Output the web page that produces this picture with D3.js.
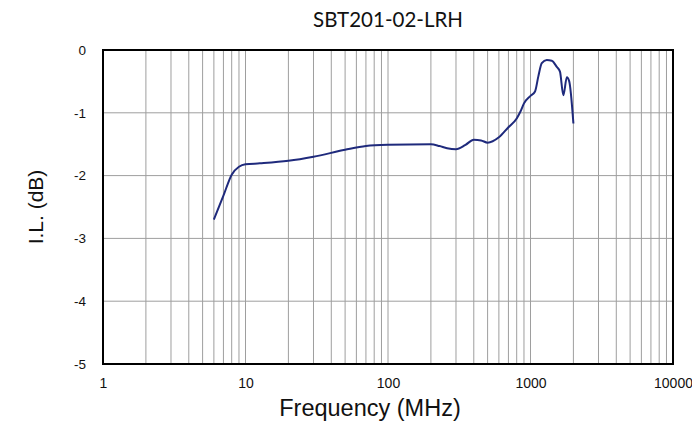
<!DOCTYPE html>
<html>
<head>
<meta charset="utf-8">
<script src="https://cdn.jsdelivr.net/npm/d3@7"></script>
<style>
  html, body { margin: 0; padding: 0; background: #fff; }
  svg { display: block; }
</style>
</head>
<body>
<svg id="chart" width="692" height="422"></svg>
<script>
const title = "SBT201-02-LRH";
const xTitle = "Frequency (MHz)";
const yTitle = "I.L. (dB)";
const xTickValues = [1, 10, 100, 1000, 10000];
const yTickValues = [0, -1, -2, -3, -4, -5];
const freqMHz = [6, 7, 8, 9, 10, 12.6, 20, 30, 50, 70, 100, 200, 230, 260, 300, 350, 400, 450, 500, 600, 700, 800, 850, 900, 1000, 1076, 1135, 1200, 1300, 1410, 1530, 1610, 1700, 1800, 1870, 2000];
const insertionLoss = [-2.70, -2.32, -1.985, -1.86, -1.82, -1.805, -1.765, -1.70, -1.59, -1.53, -1.51, -1.50, -1.53, -1.565, -1.58, -1.51, -1.43, -1.44, -1.475, -1.39, -1.23, -1.09, -0.98, -0.85, -0.73, -0.66, -0.42, -0.21, -0.16, -0.17, -0.27, -0.345, -0.72, -0.435, -0.50, -1.17];

const svg = d3.select("#chart");
const m = { left: 103, top: 50, right: 673, bottom: 364 };

const x = d3.scaleLog().domain([1, 10000]).range([m.left, m.right]);
const y = d3.scaleLinear().domain([-5, 0]).range([m.bottom, m.top]);

const vGrid = [];
for (let d = 1; d < 10000; d *= 10) {
  for (let k = 1; k <= 9; k++) vGrid.push(d * k);
}
const g = svg.append("g");
g.selectAll("line.v").data(vGrid.filter(v => v > 1)).enter().append("line")
  .attr("x1", d => x(d)).attr("x2", d => x(d))
  .attr("y1", m.top).attr("y2", m.bottom)
  .attr("stroke", "#9e9e9e").attr("stroke-width", 1);
g.selectAll("line.h").data(yTickValues.filter(v => v < 0 && v > -5)).enter().append("line")
  .attr("x1", m.left).attr("x2", m.right)
  .attr("y1", d => y(d)).attr("y2", d => y(d))
  .attr("stroke", "#9e9e9e").attr("stroke-width", 1);

svg.append("rect")
  .attr("x", m.left).attr("y", m.top)
  .attr("width", m.right - m.left).attr("height", m.bottom - m.top)
  .attr("fill", "none").attr("stroke", "#000").attr("stroke-width", 2);

const fmt = d => String(d);
const xAxis = d3.axisBottom(x).tickValues(xTickValues).tickFormat(fmt).tickSize(0).tickPadding(14);
const xg = svg.append("g").attr("transform", `translate(0,${m.bottom})`).call(xAxis);
xg.select(".domain").remove();
xg.selectAll("text").attr("font-family", "Liberation Sans, Arial, sans-serif").attr("font-size", 14).attr("fill", "#111");

const yAxis = d3.axisLeft(y).tickValues(yTickValues).tickFormat(fmt).tickSize(0).tickPadding(17);
const yg = svg.append("g").attr("transform", `translate(${m.left},0)`).call(yAxis);
yg.select(".domain").remove();
yg.selectAll("text").attr("font-family", "Liberation Sans, Arial, sans-serif").attr("font-size", 13.5).attr("fill", "#111");

const data = freqMHz.map((f, i) => ({ f, v: insertionLoss[i] }));
const line = d3.line().x(d => x(d.f)).y(d => y(d.v)).curve(d3.curveMonotoneX);
svg.append("path").datum(data)
  .attr("d", line).attr("fill", "none")
  .attr("stroke", "#1f2a7c").attr("stroke-width", 2).attr("stroke-linejoin", "round");

svg.append("text").attr("x", 388).attr("y", 27).attr("text-anchor", "middle")
  .attr("font-family", "Lato, Open Sans, sans-serif").attr("font-size", 20.5).attr("fill", "#111").text(title);
svg.append("text").attr("x", 370).attr("y", 416).attr("text-anchor", "middle")
  .attr("font-family", "Liberation Sans, Arial, sans-serif").attr("font-size", 23.5).attr("fill", "#111").text(xTitle);
svg.append("text").attr("transform", "translate(43,207) rotate(-90)").attr("text-anchor", "middle")
  .attr("font-family", "Liberation Sans, Arial, sans-serif").attr("font-size", 21).attr("fill", "#111").text(yTitle);
</script>
</body>
</html>
